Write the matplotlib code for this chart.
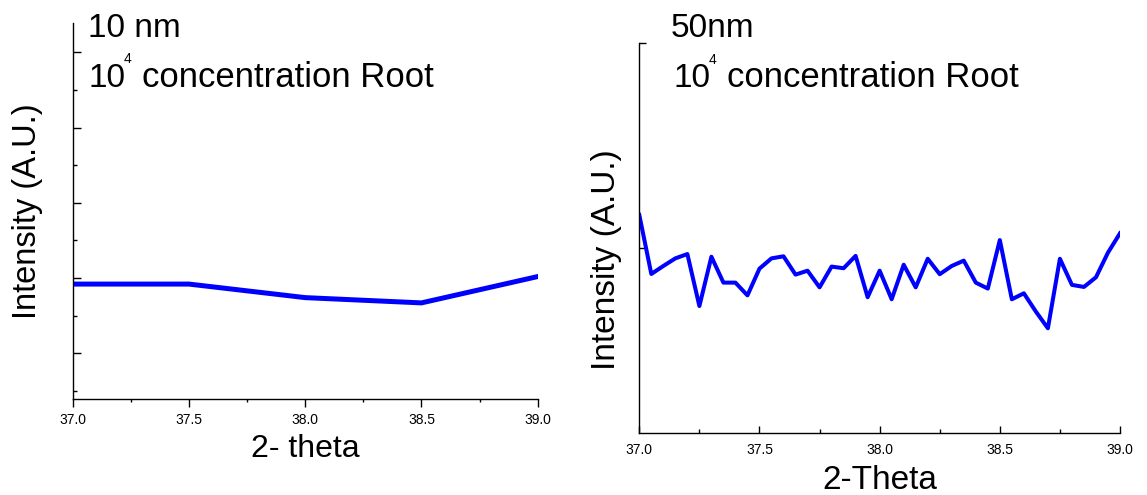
import numpy as np
import matplotlib
matplotlib.use("Agg")
import matplotlib.pyplot as plt
from matplotlib.ticker import MultipleLocator, FormatStrFormatter

plt.rcParams['font.family'] = ['Liberation Sans', 'DejaVu Sans']

# 10 nm sample, coarse scan
theta_10 = [37.0, 37.5, 38.0, 38.5, 39.0]
int_10 = [1.92, 1.92, 1.74, 1.67, 2.02]

# 50 nm sample, 0.05 step scan
theta_50 = [37.00, 37.05, 37.10, 37.15, 37.20, 37.25, 37.30, 37.35, 37.40, 37.45,
            37.50, 37.55, 37.60, 37.65, 37.70, 37.75, 37.80, 37.85, 37.90, 37.95,
            38.00, 38.05, 38.10, 38.15, 38.20, 38.25, 38.30, 38.35, 38.40, 38.45,
            38.50, 38.55, 38.60, 38.65, 38.70, 38.75, 38.80, 38.85, 38.90, 38.95,
            39.00]
int_50 = [2.162, 1.875, 1.914, 1.951, 1.972, 1.719, 1.959, 1.833, 1.833, 1.771,
          1.901, 1.951, 1.961, 1.872, 1.891, 1.810, 1.911, 1.903, 1.963, 1.762,
          1.891, 1.752, 1.920, 1.810, 1.949, 1.874, 1.914, 1.940, 1.833, 1.804,
          2.040, 1.752, 1.781, 1.692, 1.611, 1.949, 1.822, 1.812, 1.859, 1.979,
          2.073]

W, H = 1147, 495
fig = plt.figure(figsize=(W / 100, H / 100), dpi=100)


def px_box(x0, y0, x1, y1):
    return [x0 / W, 1 - y1 / H, (x1 - x0) / W, (y1 - y0) / H]


def ftext(x, y, s, size):
    # place text by pixel position, y measured from the top to the baseline
    fig.text(x / W, 1 - y / H, s, fontsize=size, va='baseline', ha='left')


# left panel
ax1 = fig.add_axes(px_box(72.7, 22.7, 537.7, 399))
ax1.plot(theta_10, int_10, color='#0000ff', lw=3.6)
ax1.set_xlim(37.0, 39.0)
ax1.set_ylim(0.393, 5.393)
ax1.yaxis.set_major_locator(MultipleLocator(1))
ax1.yaxis.set_minor_locator(MultipleLocator(0.5))
ax1.tick_params(axis='x', which='major', direction='out', length=5.8, width=1, pad=4, labelsize=10)
ax1.tick_params(axis='x', which='minor', direction='out', length=2.4, width=1)
ax1.tick_params(axis='y', which='major', direction='in', length=6, width=1, labelleft=False)
ax1.tick_params(axis='y', which='minor', direction='in', length=3, width=1)
ax1.set_xlabel('2- theta', fontsize=23, labelpad=5)
ax1.set_ylabel('Intensity (A.U.)', fontsize=23.5)
ax1.yaxis.set_label_coords(-0.064, 0.5)

# right panel
ax2 = fig.add_axes(px_box(639.3, 42.7, 1120, 432.7))
ax2.plot(theta_50, int_50, color='#0000ff', lw=2.9)
ax2.set_xlim(37.0, 39.0)
ax2.set_ylim(1.103, 3.0)
ax2.set_yticks([2, 3])
ax2.tick_params(axis='x', which='major', direction='in', length=5, width=1, pad=7.4, labelsize=10)
ax2.tick_params(axis='x', which='minor', direction='in', length=3, width=1)
ax2.tick_params(axis='y', which='major', direction='in', length=5, width=1, labelleft=False)
ax2.set_xlabel('2-Theta', fontsize=24, labelpad=6)
ax2.set_ylabel('Intensity (A.U.)', fontsize=24)
ax2.yaxis.set_label_coords(-0.037, 0.443)

for ax in (ax1, ax2):
    ax.xaxis.set_major_locator(MultipleLocator(0.5))
    ax.xaxis.set_minor_locator(MultipleLocator(0.25))
    ax.xaxis.set_major_formatter(FormatStrFormatter('%.1f'))
    ax.spines['top'].set_visible(False)
    ax.spines['right'].set_visible(False)
    ax.spines['left'].set_linewidth(1)
    ax.spines['bottom'].set_linewidth(1)
    ax.patch.set_alpha(0)

# sample annotations
ftext(88, 37, '10 nm', 24)
ftext(88, 87, '10', 24)
ftext(124, 63, '4', 10)
ftext(141.7, 87, 'concentration Root', 25)

ftext(671, 37, '50nm', 24)
ftext(673, 87, '10', 24)
ftext(708.5, 64, '4', 10)
ftext(726.7, 87, 'concentration Root', 25)

fig.savefig('out.png', dpi=100)
